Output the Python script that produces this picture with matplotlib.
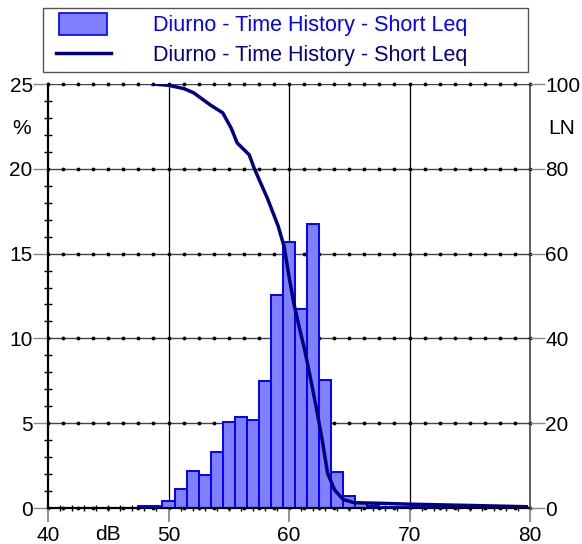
#!/usr/bin/env python3
"""
Diurno - Time History - Short Leq: level distribution (%) and LN curve.
"""

import numpy as np
import matplotlib
matplotlib.use('Agg')
import matplotlib.pyplot as plt
from matplotlib.patches import Rectangle
from matplotlib.lines import Line2D

plt.rcParams['font.family'] = ['Liberation Sans', 'DejaVu Sans']

# Data
level_db = list(range(48, 80))
level_pct = [0.12, 0.12, 0.41, 1.12, 2.16, 1.96, 3.30, 5.07, 5.38, 5.21,
             7.49, 12.55, 15.68, 11.71, 16.72, 7.56, 2.14, 0.73, 0.30, 0.10,
             0.08, 0.07, 0.06, 0.05, 0.05, 0.04, 0.04, 0.04, 0.03, 0.03,
             0.03, 0.06]

ln_db = [48.7, 50.0, 51.3, 52.1, 53.5, 54.5, 55.2, 55.7, 56.7, 57.1, 57.7,
         58.2, 59.1, 59.6, 60.0, 60.4, 60.9, 61.3, 61.7, 62.25, 62.8, 63.2,
         63.8, 64.5, 65.4, 67.7, 70.0, 75.0, 79.7]
ln_val = [100, 99.7, 98.9, 97.9, 95.0, 93.2, 89.6, 86.1, 83.3, 80.2, 76.3,
          73.1, 66.5, 61.6, 54.6, 48.3, 42.0, 37.3, 31.8, 23.9, 15.3, 8.2,
          4.2, 2.0, 1.25, 1.1, 0.9, 0.6, 0.3]

legend_label = 'Diurno - Time History - Short Leq'
x_ticks = [40, 50, 60, 70, 80]
pct_ticks = [0, 5, 10, 15, 20, 25]
ln_ticks = [0, 20, 40, 60, 80, 100]

W, H = 582, 544
FS = 15


def fx(x):
	return x / W


def fy(y):
	return 1 - y / H


fig = plt.figure(figsize=(W / 100, H / 100), dpi=100)
ax = fig.add_axes([fx(48), fy(508), (530 - 48) / W, (508 - 84) / H])
ax.set_xlim(40, 80)
ax.set_ylim(0, 25)

# grid: solid lines with dots every 1.25 dB
dots = np.arange(40, 80.01, 1.25)
for y in pct_ticks:
	ax.axhline(y, color='#444444', lw=1.0, zorder=0)
	ax.plot(dots, [y] * len(dots), 'k.', ms=3.5, zorder=0.5, clip_on=False)
for x in x_ticks[1:-1]:
	ax.axvline(x, color='black', lw=0.9, zorder=0)

ax.bar(level_db, level_pct, width=1.0, color='#8080ff', edgecolor='#0000ff',
       linewidth=1.4, zorder=2)

for side in ['top', 'right']:
	ax.spines[side].set_visible(False)
ax.spines['left'].set_linewidth(1.6)
ax.spines['bottom'].set_linewidth(1.6)

ax.set_xticks(x_ticks)
ax.set_xticks(np.arange(41, 80), minor=True)
ax.set_yticks(pct_ticks)
ax.set_yticks(np.arange(0, 25), minor=True)
ax.tick_params(axis='x', which='major', direction='out', length=10, width=1.3,
               color='#888888', labelsize=FS, pad=3)
ax.tick_params(axis='x', which='minor', direction='inout', length=4.5, width=1.0)
ax.tick_params(axis='y', which='major', direction='out', length=11, width=1.0,
               color='#888888', labelsize=FS, pad=0)
ax.tick_params(axis='y', which='minor', direction='inout', length=6, width=1.0)

ax2 = ax.twinx()
ax2.set_ylim(0, 100)
ax2.set_yticks(ln_ticks)
for side in ['top', 'left', 'bottom']:
	ax2.spines[side].set_visible(False)
ax2.spines['right'].set_color('#444444')
ax2.spines['right'].set_linewidth(1.2)
ax2.tick_params(axis='y', direction='out', length=11, width=1.0,
                color='#888888', labelsize=FS, pad=0)
ax2.plot(ln_db, ln_val, color='#000080', lw=2.5, zorder=3)

# axis captions
fig.text(fx(22), fy(128), '%', fontsize=FS, ha='center', va='center')
fig.text(fx(562), fy(128), 'LN', fontsize=FS, ha='center', va='center')
fig.text(fx(108), fy(535), 'dB', fontsize=FS, ha='center', va='center')

# legend box
fig.add_artist(Rectangle((fx(43), fy(72)), (528 - 43) / W, (72 - 8) / H,
                         transform=fig.transFigure, facecolor='white',
                         edgecolor='#555555', lw=1.0))
fig.add_artist(Rectangle((fx(59), fy(35)), (107 - 59) / W, (35 - 13) / H,
                         transform=fig.transFigure, facecolor='#8080ff',
                         edgecolor='#0000ff', lw=1.2))
fig.add_artist(Line2D([fx(56), fx(111)], [fy(53), fy(53)],
                      transform=fig.transFigure, color='#000080', lw=2.5))
fig.text(fx(153), fy(25), legend_label, fontsize=15.5, color='#0000ff',
         va='center', ha='left')
fig.text(fx(153), fy(55), legend_label, fontsize=15.5, color='#000080',
         va='center', ha='left')

fig.savefig('out.png', dpi=100)
